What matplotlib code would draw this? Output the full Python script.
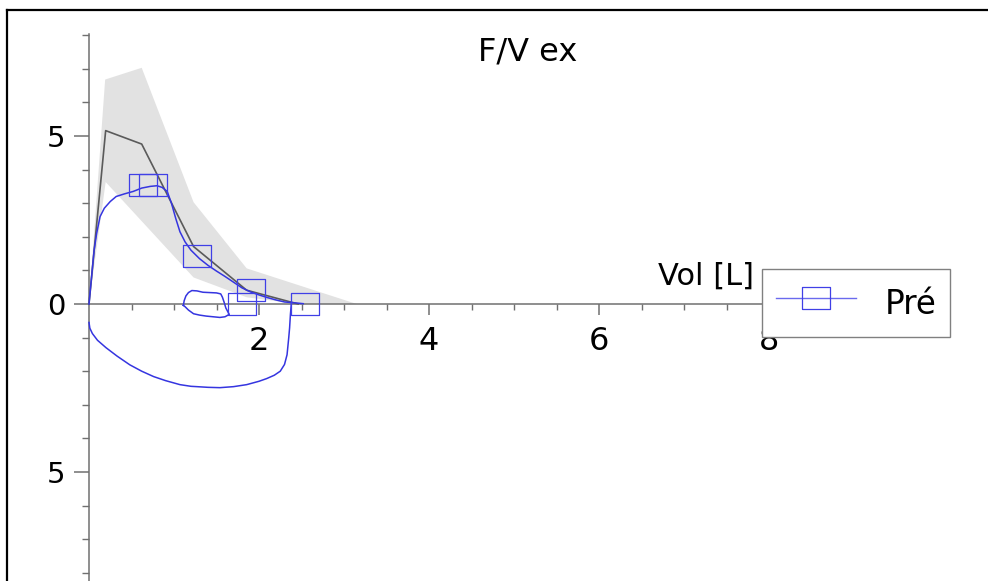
import numpy as np
import matplotlib.pyplot as plt
from matplotlib.lines import Line2D

plt.rcParams['font.family'] = ['DejaVu Sans']

# measured loop (Pré): expiration, inspiration, small loop
exp_vol = [0, 0.03, 0.06, 0.09, 0.13, 0.18, 0.25, 0.32, 0.42, 0.52, 0.62, 0.72, 0.8, 0.86,
           0.92, 0.97, 1.02, 1.07, 1.13, 1.2, 1.3, 1.4, 1.5, 1.6, 1.7, 1.8, 1.9, 2.0,
           2.1, 2.2, 2.3, 2.4, 2.52]
exp_flow = [0, 0.8, 1.6, 2.1, 2.6, 2.85, 3.05, 3.2, 3.28, 3.35, 3.45, 3.5, 3.52, 3.47,
            3.35, 3.0, 2.55, 2.15, 1.85, 1.6, 1.35, 1.15, 0.98, 0.82, 0.65, 0.48, 0.36, 0.27,
            0.19, 0.12, 0.06, 0.04, 0.01]
insp_vol = [0, 0.01, 0.04, 0.1, 0.2, 0.33, 0.48, 0.62, 0.76, 0.9, 1.07, 1.2, 1.27, 1.4,
            1.54, 1.7, 1.855, 2.0, 2.09, 2.18, 2.25, 2.3, 2.33, 2.35, 2.36, 2.37, 2.38]
insp_flow = [-0.55, -0.72, -0.88, -1.08, -1.3, -1.55, -1.81, -2.0, -2.16, -2.28, -2.4, -2.45,
             -2.46, -2.48, -2.49, -2.46, -2.4, -2.3, -2.22, -2.12, -2.0, -1.8, -1.51, -1.0,
             -0.71, -0.3, 0.0]
loop_vol = [1.11, 1.12, 1.14, 1.17, 1.21, 1.27, 1.34, 1.42, 1.5, 1.55, 1.57, 1.59, 1.61,
            1.65, 1.6, 1.54, 1.46, 1.38, 1.3, 1.23, 1.17, 1.13, 1.11]
loop_flow = [-0.04, 0.1, 0.24, 0.34, 0.4, 0.39, 0.35, 0.34, 0.33, 0.3, 0.2, 0.05, -0.12,
             -0.31, -0.38, -0.4, -0.38, -0.36, -0.33, -0.29, -0.18, -0.08, -0.04]

marker_vol = [0.633, 0.753, 1.27, 1.90, 1.80, 2.537]
marker_flow = [3.55, 3.55, 1.42, 0.43, -0.01, -0.01]

# predicted curve and normal band
ref_vol = [0, 0.196, 0.62, 1.23, 1.855, 2.46]
ref_flow = [0, 5.16, 4.76, 1.71, 0.41, 0.0]
band_up_vol = [0, 0.19, 0.62, 1.23, 1.855, 3.15]
band_up_flow = [0, 6.68, 7.03, 3.03, 1.06, 0.0]
band_lo_vol = [0, 0.196, 1.23, 1.855, 2.46]
band_lo_flow = [0, 3.63, 0.79, 0.2, 0.0]

W, H = 988, 581
x0, y0 = 89, 304          # pixel of origin
sx, sy = 85.0, 33.6       # pixels per unit

fig = plt.figure(figsize=(W / 100, H / 100), dpi=100)
ax = fig.add_axes([0, 0, 1, 1])
ax.set_xlim(-x0 / sx, (W - x0) / sx)
ax.set_ylim((y0 - H) / sy, y0 / sy)
ax.set_facecolor('white')

band_x = band_up_vol + band_lo_vol[::-1]
band_y = band_up_flow + band_lo_flow[::-1]
ax.fill(band_x, band_y, color='#e2e2e2', lw=0, zorder=1)
ax.plot(ref_vol, ref_flow, color='#5a5a5a', lw=1.2, zorder=3)

blue = '#3535e0'
nan = [np.nan]
pre_vol = exp_vol + nan + insp_vol + nan + loop_vol
pre_flow = exp_flow + nan + insp_flow + nan + loop_flow
ax.plot(pre_vol, pre_flow, color=blue, lw=1.1, zorder=4)

rect = [(-1.3, -1), (1.3, -1), (1.3, 1), (-1.3, 1), (-1.3, -1)]
ax.plot(marker_vol, marker_flow, ls='none', marker=rect, ms=19.8,
        mfc='none', mec='#4040e6', mew=0.9, zorder=4)

for side in ['top', 'right']:
    ax.spines[side].set_visible(False)
ax.spines['left'].set_position(('data', 0))
ax.spines['bottom'].set_position(('data', 0))
ax.spines['left'].set_bounds(-8.3, 8.05)
ax.spines['bottom'].set_bounds(0, 9.6)
for side in ['left', 'bottom']:
    ax.spines[side].set_color('#707070')
    ax.spines[side].set_linewidth(1.1)
    ax.spines[side].set_zorder(2)

ax.set_xticks([2, 4, 6, 8])
ax.set_xticklabels(['2', '4', '6', '8'])
ax.set_xticks(np.arange(0.5, 9.6, 0.5), minor=True)
ax.set_yticks([-5, 0, 5])
ax.set_yticklabels(['5', '0', '5'])
ax.set_yticks(np.arange(-8, 8.1, 1), minor=True)
ax.tick_params(axis='x', which='major', length=7.7, width=1.1, color='#707070',
               pad=8, labelsize=23)
ax.tick_params(axis='x', which='minor', length=4.5, width=1.0, color='#707070')
ax.tick_params(axis='y', which='major', length=10.8, width=1.1, color='#707070',
               pad=6, labelsize=21)
ax.tick_params(axis='y', which='minor', length=5, width=1.0, color='#707070')

ax.text((528 - x0) / sx, (y0 - 52) / sy, 'F/V ex', ha='center', va='center',
        fontsize=23, zorder=6)
ax.text((658 - x0) / sx, (y0 - 285) / sy, 'Vol [L]', ha='left', va='baseline',
        fontsize=22, zorder=3)

handle = Line2D([], [], color='#6a6aee', lw=1.0, marker=rect, ms=19.8,
                mfc='none', mec='#4040e6', mew=0.9)
leg = ax.legend([handle], ['Pré'], loc='upper left',
                bbox_to_anchor=(762 / W, 1 - 269 / H), bbox_transform=fig.transFigure,
                borderaxespad=0, fontsize=23.5, handlelength=2.45, handletextpad=0.88,
                handleheight=1.55, borderpad=0.42, fancybox=False, framealpha=1,
                numpoints=1)
leg.get_frame().set_edgecolor('#808080')
leg.get_frame().set_linewidth(1.0)
leg.set_zorder(10)

# window border (left and top)
fig.add_artist(Line2D([7 / W, 7 / W], [0, 1 - 10 / H], transform=fig.transFigure,
                      color='black', lw=1.6))
fig.add_artist(Line2D([7 / W, 1], [1 - 10 / H, 1 - 10 / H], transform=fig.transFigure,
                      color='black', lw=1.6))

fig.savefig('out.png', dpi=100)
